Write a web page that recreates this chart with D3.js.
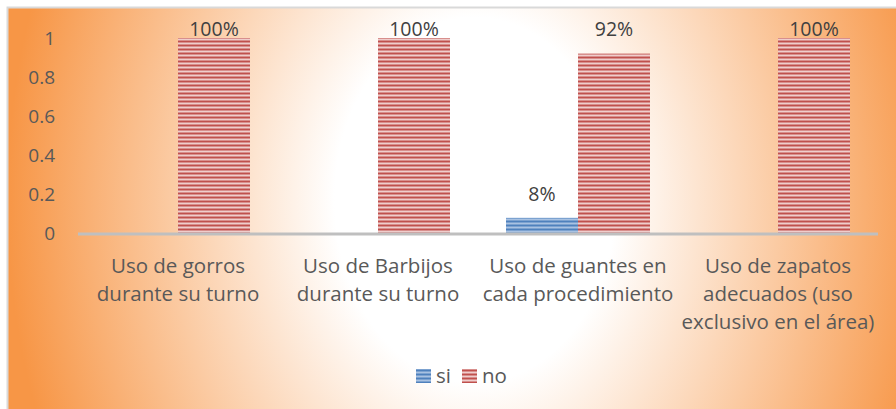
<!DOCTYPE html>
<html>
<head>
<meta charset="utf-8">
<script src="https://cdn.jsdelivr.net/npm/d3@7/dist/d3.min.js"></script>
<style>
  body { margin: 0; background: #fff; }
  svg { display: block; font-family: "Open Sans", "Noto Sans", sans-serif; }
</style>
</head>
<body>
<div id="chart-area"></div>
<script>
var categories = [
    ["Uso de gorros", "durante su turno"],
    ["Uso de Barbijos", "durante su turno"],
    ["Uso de guantes en", "cada procedimiento"],
    ["Uso de zapatos", "adecuados (uso", "exclusivo en el área)"]
];
var seriesNames = ["si", "no"];
var siValues = [0, 0, 0.08, 0];
var noValues = [1, 1, 0.92, 1];
var yTicks = [0, 0.2, 0.4, 0.6, 0.8, 1];

var W = 896, H = 409;
var plotLeft = 78, plotRight = 878, plotTop = 38, plotBottom = 233.5;

var svg = d3.select("#chart-area")
    .append("svg")
        .attr("width", W)
        .attr("height", H);

var defs = svg.append("defs");

var grad = defs.append("radialGradient")
    .attr("id", "bg")
    .attr("gradientUnits", "userSpaceOnUse")
    .attr("cx", 475).attr("cy", 200).attr("r", 468)
    .attr("gradientTransform", "translate(475,200) scale(1,1.3) translate(-475,-200)");
grad.append("stop").attr("offset", "0").attr("stop-color", "#ffffff");
grad.append("stop").attr("offset", "0.3").attr("stop-color", "#ffffff");
grad.append("stop").attr("offset", "1").attr("stop-color", "#f79646");

function stripes(id, dark, light) {
    var p = defs.append("pattern")
        .attr("id", id)
        .attr("patternUnits", "userSpaceOnUse")
        .attr("width", 8).attr("height", 4)
        .attr("y", 0.5);
    p.append("rect").attr("width", 8).attr("height", 4).attr("fill", light);
    p.append("rect").attr("width", 8).attr("height", 2).attr("fill", dark);
}
stripes("stripeSi", "#4f81bd", "#a9c2e2");
stripes("stripeNo", "#c0504d", "#efcdcc");
var fills = { si: "url(#stripeSi)", no: "url(#stripeNo)" };

// chart area with gradient
svg.append("rect")
    .attr("x", 7.5).attr("y", 7.5)
    .attr("width", 900).attr("height", 420)
    .attr("fill", "url(#bg)")
    .attr("stroke", "#d9d9d9")
    .attr("stroke-width", 2);

var x0 = d3.scaleBand()
    .domain(d3.range(categories.length))
    .range([plotLeft, plotRight]);

var x1 = d3.scaleBand()
    .domain(seriesNames)
    .range([x0.bandwidth() / 2 - 72, x0.bandwidth() / 2 + 72]);

var y = d3.scaleLinear()
    .domain([0, 1])
    .range([plotBottom, plotTop]);

// y tick labels
svg.append("g")
    .selectAll("text")
    .data(yTicks)
    .enter()
    .append("text")
        .attr("x", 55)
        .attr("y", function(d) { return y(d); })
        .attr("dy", "0.35em")
        .attr("text-anchor", "end")
        .attr("font-size", "19px")
        .attr("fill", "#595959")
        .text(function(d) { return d3.format("~g")(d); });

// bars
var rows = categories.map(function(c, i) {
    return [
        { cat: i, s: "si", v: siValues[i] },
        { cat: i, s: "no", v: noValues[i] }
    ];
});

var groups = svg.selectAll("g.cat")
    .data(rows)
    .enter()
    .append("g")
        .attr("class", "cat")
        .attr("transform", function(d, i) { return "translate(" + x0(i) + ",0)"; });

groups.selectAll("rect")
    .data(function(d) { return d.filter(function(e) { return e.v > 0; }); })
    .enter()
    .append("rect")
        .attr("x", function(d) { return x1(d.s); })
        .attr("y", function(d) { return y(d.v); })
        .attr("width", x1.bandwidth())
        .attr("height", function(d) { return plotBottom - y(d.v); })
        .attr("fill", function(d) { return fills[d.s]; });

groups.selectAll("text.lbl")
    .data(function(d) { return d.filter(function(e) { return e.v > 0; }); })
    .enter()
    .append("text")
        .attr("class", "lbl")
        .attr("x", function(d) { return x1(d.s) + x1.bandwidth() / 2; })
        .attr("y", function(d) { return Math.max(y(d.v) - 24, 29); })
        .attr("dy", "0.35em")
        .attr("text-anchor", "middle")
        .attr("font-size", "19.5px")
        .attr("fill", "#404040")
        .text(function(d) { return d3.format(".0%")(d.v); });

// axis line
svg.append("line")
    .attr("x1", plotLeft).attr("x2", plotRight)
    .attr("y1", plotBottom + 0.5).attr("y2", plotBottom + 0.5)
    .attr("stroke", "#bfbfbf")
    .attr("stroke-width", 3);

// category labels
var catText = svg.append("g")
    .selectAll("text")
    .data(categories)
    .enter()
    .append("text")
        .attr("x", function(d, i) { return x0(i) + x0.bandwidth() / 2; })
        .attr("y", 266)
        .attr("text-anchor", "middle")
        .attr("font-size", "20.5px")
        .attr("fill", "#595959");

catText.selectAll("tspan")
    .data(function(d) { return d; })
    .enter()
    .append("tspan")
        .attr("x", function() { return d3.select(this.parentNode).attr("x"); })
        .attr("dy", function(d, i) { return i === 0 ? "0.35em" : "28px"; })
        .text(function(d) { return d; });

// legend
var legendX = [416, 462];
var legend = svg.selectAll("g.legend")
    .data(seriesNames)
    .enter()
    .append("g")
        .attr("class", "legend")
        .attr("transform", function(d, i) { return "translate(" + legendX[i] + ",369)"; });

legend.append("rect")
    .attr("width", 15).attr("height", 14)
    .attr("fill", function(d) { return fills[d]; });

legend.append("text")
    .attr("x", 20)
    .attr("y", 7)
    .attr("dy", "0.35em")
    .attr("font-size", "20.5px")
    .attr("fill", "#595959")
    .text(function(d) { return d; });
</script>
</body>
</html>
